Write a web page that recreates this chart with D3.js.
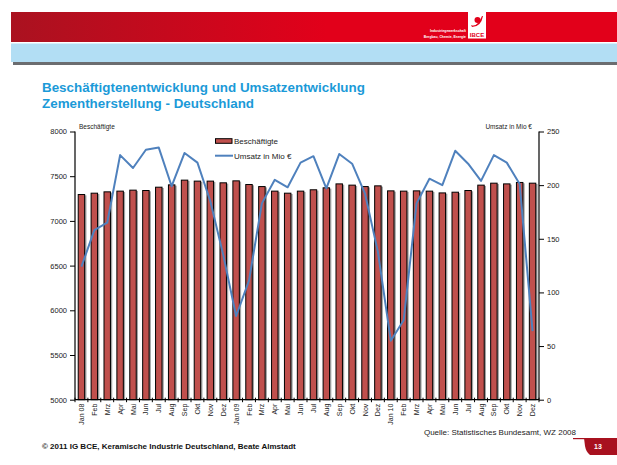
<!DOCTYPE html>
<html>
<head>
<meta charset="utf-8">
<script src="https://cdn.jsdelivr.net/npm/d3@7"></script>
<style>
  body { margin: 0; background: #fff; }
  svg { display: block; font-family: "Liberation Sans", Arial, sans-serif; }
</style>
</head>
<body>
<div id="chart"></div>
<script>
// months, Jan 2008 .. Dez 2010
var monate = ["Jan 08","Feb","Mrz","Apr","Mai","Jun","Jul","Aug","Sep","Okt","Nov","Dez",
  "Jan 09","Feb","Mrz","Apr","Mai","Jun","Jul","Aug","Sep","Okt","Nov","Dez",
  "Jan 10","Feb","Mrz","Apr","Mai","Jun","Jul","Aug","Sep","Okt","Nov","Dez"]

// Beschäftigte (left axis)
var beschaeftigte = [7295,7310,7325,7333,7344,7340,7377,7403,7456,7445,7445,7426,
  7448,7407,7384,7333,7310,7333,7348,7370,7414,7400,7384,7392,
  7336,7333,7336,7333,7313,7321,7340,7400,7422,7414,7430,7422]

// Umsatz in Mio € (right axis)
var umsatz = [124,158,165,228,216,233,235,199,230,221,185,135,
  78,111,183,205,198,221,227,197,229,220,192,138,
  55,74,183,206,200,232,220,204,228,221,201,64]

var linksTicks = [5000,5500,6000,6500,7000,7500,8000]
var rechtsTicks = [0,50,100,150,200,250]

var W = 617, H = 465
var svg = d3.select("#chart").append("svg")
  .attr("width", W)
  .attr("height", H)

var defs = svg.append("defs")
var grad = defs.append("linearGradient").attr("id", "kopf")
grad.append("stop").attr("offset", "0").attr("stop-color", "#AA1220")
grad.append("stop").attr("offset", "0.52").attr("stop-color", "#E2001A")
grad.append("stop").attr("offset", "1").attr("stop-color", "#E2001A")

// header band
svg.append("rect").attr("x", 11).attr("y", 12).attr("width", W - 11).attr("height", 30)
  .attr("fill", "url(#kopf)")
svg.append("rect").attr("x", 13).attr("y", 61).attr("width", W - 13).attr("height", 4)
  .attr("fill", "#6b6d70")
svg.append("rect").attr("x", 11).attr("y", 43.5).attr("width", W - 11).attr("height", 18.5)
  .attr("fill", "#B2DEF4")

// logo
var logo = svg.append("g")
logo.append("rect").attr("x", 468).attr("y", 12).attr("width", 18).attr("height", 26.5).attr("fill", "#fff")
logo.append("circle").attr("cx", 477.5).attr("cy", 20).attr("r", 3).attr("fill", "#E2001A")
logo.append("path").attr("d", "M471,25 Q477,28 482,16 L483,16 Q481,27 472,27 Z").attr("fill", "#E2001A")
logo.append("text").attr("x", 477).attr("y", 37).attr("text-anchor", "middle")
  .attr("font-size", 6).attr("font-weight", "bold").attr("fill", "#E2001A").text("IBCE")
logo.append("text").attr("x", 466).attr("y", 32).attr("text-anchor", "end")
  .attr("font-size", 3.4).attr("font-weight", "bold").attr("fill", "#fff").text("Industriegewerkschaft")
logo.append("text").attr("x", 466).attr("y", 38).attr("text-anchor", "end")
  .attr("font-size", 3.4).attr("font-weight", "bold").attr("fill", "#fff").text("Bergbau, Chemie, Energie")

// title
svg.append("text").attr("x", 42).attr("y", 92.3)
  .attr("font-size", 13.4).attr("font-weight", "bold").attr("fill", "#1B9AD8")
  .text("Beschäftigtenentwicklung und Umsatzentwicklung")
svg.append("text").attr("x", 42).attr("y", 108.3)
  .attr("font-size", 13.4).attr("font-weight", "bold").attr("fill", "#1B9AD8")
  .text("Zementherstellung - Deutschland")

// plot area
var x0 = 75, x1 = 539, yTop = 131.5, yBot = 399.7

var x = d3.scaleBand()
  .domain(d3.range(monate.length))
  .range([x0, x1])
  .paddingInner(0.5)
  .paddingOuter(0.25)

var yL = d3.scaleLinear().domain([5000, 8000]).range([yBot, yTop])
var yR = d3.scaleLinear().domain([0, 250]).range([yBot, yTop])

var plot = svg.append("g")

// bars: shadow then bar
plot.selectAll(".schatten")
  .data(beschaeftigte)
  .enter().append("rect")
  .attr("class", "schatten")
  .attr("x", function (d, i) { return x(i) + 1.8 })
  .attr("y", function (d) { return yL(d) + 0.8 })
  .attr("width", x.bandwidth())
  .attr("height", function (d) { return yBot - yL(d) - 0.8 })
  .attr("fill", "#a3a3a3")

plot.selectAll(".balken")
  .data(beschaeftigte)
  .enter().append("rect")
  .attr("class", "balken")
  .attr("x", function (d, i) { return x(i) })
  .attr("y", function (d) { return yL(d) })
  .attr("width", x.bandwidth())
  .attr("height", function (d) { return yBot - yL(d) })
  .attr("fill", "#C0504D")
  .attr("stroke", "#000")
  .attr("stroke-width", 1)

// Umsatz line
var linie = d3.line()
  .x(function (d, i) { return x(i) + x.bandwidth() / 2 })
  .y(function (d) { return yR(d) })

plot.append("path")
  .datum(umsatz)
  .attr("d", linie)
  .attr("fill", "none")
  .attr("stroke", "#4F81BD")
  .attr("stroke-width", 2)
  .attr("stroke-linejoin", "round")

// axes
var achseL = d3.axisLeft(yL).tickValues(linksTicks).tickSize(5).tickPadding(3).tickFormat(d3.format("d"))
var achseR = d3.axisRight(yR).tickValues(rechtsTicks).tickSize(5).tickPadding(3).tickFormat(d3.format("d"))

var gL = svg.append("g").attr("transform", "translate(" + x0 + ",0)").call(achseL)
var gR = svg.append("g").attr("transform", "translate(" + x1 + ",0)").call(achseR)
;[gL, gR].forEach(function (g) {
  g.select(".domain").attr("stroke", "#000").attr("stroke-width", 1.2)
  g.selectAll(".tick line").attr("stroke", "#000")
  g.selectAll(".tick text").attr("font-size", 7.5).attr("fill", "#222")
    .attr("font-family", "Liberation Sans, Arial, sans-serif")
})
gL.select(".domain").attr("d", "M0," + yTop + "V" + yBot)
gR.select(".domain").attr("d", "M0," + yTop + "V" + yBot)

// x axis
svg.append("line").attr("x1", x0).attr("x2", x1).attr("y1", yBot).attr("y2", yBot)
  .attr("stroke", "#000").attr("stroke-width", 1.2)
var step = x.step()
svg.append("g").selectAll("line")
  .data(d3.range(monate.length + 1))
  .enter().append("line")
  .attr("x1", function (i) { return x0 + i * step })
  .attr("x2", function (i) { return x0 + i * step })
  .attr("y1", yBot - 2)
  .attr("y2", yBot + 2.5)
  .attr("stroke", "#000")

svg.append("g").selectAll("text")
  .data(monate)
  .enter().append("text")
  .attr("transform", function (d, i) {
    return "translate(" + (x(i) + x.bandwidth() / 2 + 2.5) + "," + (yBot + 4) + ") rotate(-90)"
  })
  .attr("text-anchor", "end")
  .attr("font-size", 7)
  .attr("fill", "#222")
  .text(function (d) { return d })

// axis titles
svg.append("text").attr("x", 79).attr("y", 129).attr("font-size", 6.5).attr("fill", "#222")
  .text("Beschäftigte")
svg.append("text").attr("x", 532).attr("y", 129).attr("font-size", 6.5).attr("fill", "#222")
  .attr("text-anchor", "end").text("Umsatz in Mio €")

// legend
var leg = svg.append("g")
leg.append("rect").attr("x", 215.5).attr("y", 138.7).attr("width", 16.5).attr("height", 4.6)
  .attr("fill", "#C0504D").attr("stroke", "#000")
leg.append("text").attr("x", 234).attr("y", 144).attr("font-size", 8).attr("fill", "#222")
  .text("Beschäftigte")
leg.append("line").attr("x1", 215).attr("x2", 233).attr("y1", 155.7).attr("y2", 155.7)
  .attr("stroke", "#4F81BD").attr("stroke-width", 2)
leg.append("text").attr("x", 234).attr("y", 158.5).attr("font-size", 8).attr("fill", "#222")
  .text("Umsatz in Mio €")

// footer
svg.append("text").attr("x", 576).attr("y", 435).attr("text-anchor", "end")
  .attr("font-size", 8).attr("fill", "#222").text("Quelle: Statistisches Bundesamt, WZ 2008")
svg.append("text").attr("x", 42).attr("y", 449)
  .attr("font-size", 8).attr("font-weight", "bold").attr("fill", "#111")
  .text("© 2011 IG BCE, Keramische Industrie Deutschland, Beate Almstadt")

svg.append("rect").attr("x", 573).attr("y", 438).attr("width", W - 573).attr("height", 1.2)
  .attr("fill", "#A8111F")
svg.append("path")
  .attr("d", "M584,438 H617 V455 H590 Q586,452 585,446 Z")
  .attr("fill", "#A8111F")
svg.append("text").attr("x", 594).attr("y", 449).attr("font-size", 7)
  .attr("font-weight", "bold").attr("fill", "#fff").text("13")
</script>
</body>
</html>
